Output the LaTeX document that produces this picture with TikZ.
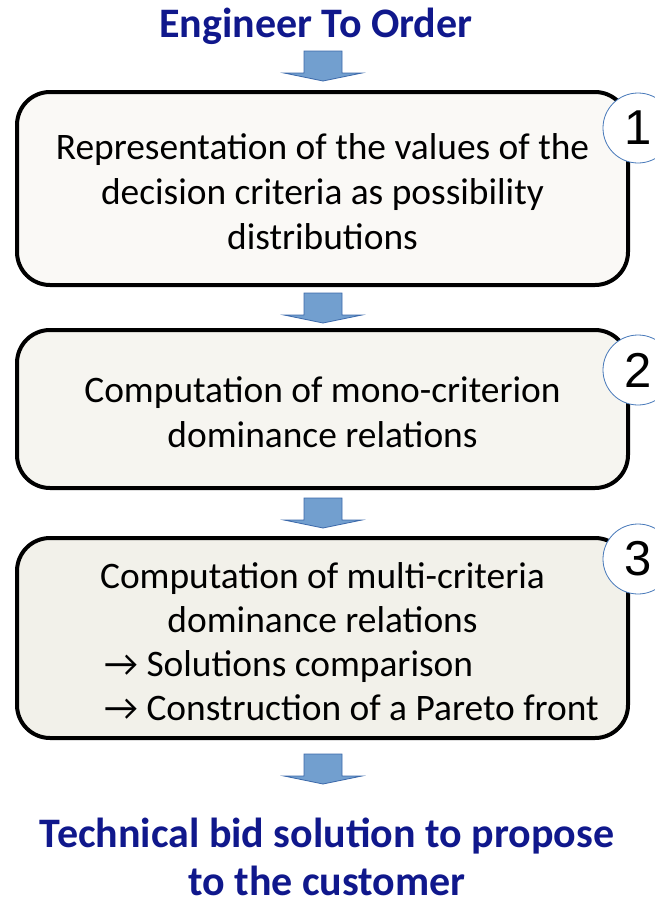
\documentclass[tikz,border=0pt]{standalone}
\usepackage{fontspec}
\setmainfont{Carlito}
\newfontfamily\numfont{Liberation Sans}
\definecolor{navy}{RGB}{16,24,140}
\definecolor{boxa}{RGB}{250,249,246}
\definecolor{boxb}{RGB}{246,245,240}
\definecolor{boxc}{RGB}{242,241,234}
\definecolor{arrfill}{RGB}{114,159,207}
\definecolor{arrdraw}{RGB}{60,105,170}
\definecolor{circdraw}{RGB}{70,120,185}
\begin{document}
\begin{tikzpicture}[x=1pt,y=-1pt,
  stepbox/.style={draw=black,line width=4pt,rounded corners=33pt,inner sep=0pt,minimum width=611pt},
  bodytxt/.style={anchor=base,inner sep=0pt,font=\fontsize{37.4}{45}\selectfont},
  headtxt/.style={anchor=base,inner sep=0pt,text=navy,font=\fontsize{42}{50}\selectfont\bfseries},
  numcirc/.style={circle,draw=circdraw,line width=0.8pt,fill=white,minimum size=70pt,inner sep=0pt,font=\fontsize{49}{49}\selectfont\numfont},
  blockarr/.style={fill=arrfill,draw=arrdraw,line width=0.8pt,line join=miter}
]
\useasboundingbox (0,0) rectangle (654,900);

% title
\node[headtxt] (title) at (316,37) {Engineer To Order};

% boxes
\node[stepbox,fill=boxa,minimum height=193pt] (b1) at (322.5,188.5) {};
\node[stepbox,fill=boxb,minimum height=158pt] (b2) at (322.5,409) {};
\node[stepbox,fill=boxc,minimum height=200pt] (b3) at (322.5,638) {};

% circles
\node[numcirc] (c1) at (638,128) {1};
\node[numcirc] (c2) at (638,370) {2};
\node[numcirc] (c3) at (638,559) {3};

% box texts
\node[bodytxt] (t1a) at (322.5,159) {Representation of the values of the};
\node[bodytxt] (t1b) at (322.5,204) {decision criteria as possibility};
\node[bodytxt] (t1c) at (322.5,249) {distributions};

\node[bodytxt] (t2a) at (322.5,402) {Computation of mono-criterion};
\node[bodytxt] (t2b) at (322.5,447) {dominance relations};

\node[bodytxt] (t3a) at (322.5,588) {Computation of multi-criteria};
\node[bodytxt] (t3b) at (322.5,632) {dominance relations};
\node[bodytxt,anchor=base west] (t3c) at (104,676) {→ Solutions comparison};
\node[bodytxt,anchor=base west] (t3d) at (104,720) {→ Construction of a Pareto front};

% bottom text
\node[headtxt] (out1) at (327,847) {Technical bid solution to propose};
\node[headtxt] (out2) at (327,895) {to the customer};

% block arrows
\foreach \y/\n in {51/a1,293/a2,498/a3,754/a4}{
  \draw[blockarr] (304,\y) -- (342,\y) -- (342,\y+22) -- (362,\y+22) -- (323,\y+30)
     -- (284,\y+22) -- (304,\y+22) -- cycle;
}
\end{tikzpicture}
\end{document}
